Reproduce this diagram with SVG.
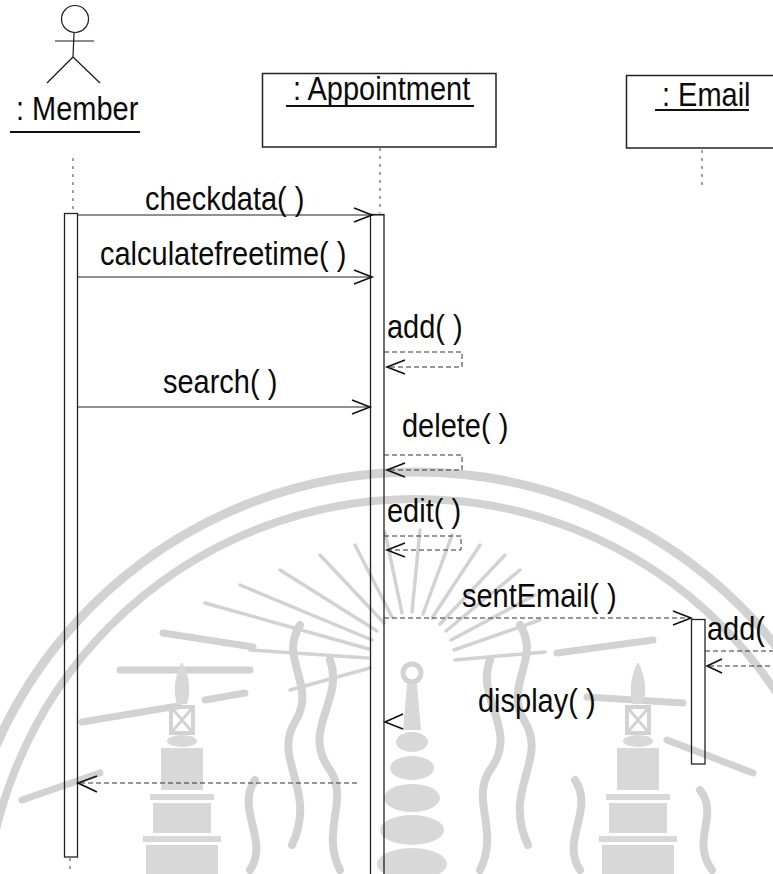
<svg xmlns="http://www.w3.org/2000/svg" width="773" height="874" viewBox="0 0 773 874">
<defs>
<style>
.t{font-family:"Liberation Sans",Arial,sans-serif;font-size:29px;fill:#0a0a0a}
.ln{stroke:#1a1a1a;stroke-width:1.2;fill:none}
.msg{stroke:#222;stroke-width:1;fill:none}
.ret{stroke:#333;stroke-width:1;fill:none;stroke-dasharray:5 3}
.life{stroke:#444;stroke-width:1;fill:none;stroke-dasharray:3 5}
.head{stroke:#111;stroke-width:1.6;fill:none}
.box{stroke:#222;stroke-width:1.5;fill:none}
.bar{stroke:#222;stroke-width:1.3;fill:none}
.ul{stroke:#111;stroke-width:2}
.wm{stroke:#d2d2d2;fill:none;stroke-linecap:round}
.wf{fill:#d8d8d8}
</style>
</defs>
<rect width="773" height="874" fill="#fff"/>

<g id="watermark">
  <circle class="wm" cx="416" cy="931" r="459" stroke-width="9"/>
  <circle class="wm" cx="416" cy="931" r="432" stroke-width="8"/>
  <g class="wm" stroke-width="3.5">
    <line x1="455" y1="660" x2="545" y2="652"/>
    <line x1="454" y1="650" x2="540" y2="620"/>
    <line x1="451" y1="640" x2="535" y2="595"/>
    <line x1="446" y1="631" x2="520" y2="570"/>
    <line x1="440" y1="624" x2="505" y2="555"/>
    <line x1="432" y1="618" x2="480" y2="545"/>
    <line x1="423" y1="614" x2="452" y2="535"/>
    <line x1="412" y1="612" x2="420" y2="530"/>
    <line x1="402" y1="613" x2="385" y2="532"/>
    <line x1="392" y1="617" x2="355" y2="545"/>
    <line x1="384" y1="623" x2="320" y2="555"/>
    <line x1="377" y1="631" x2="280" y2="570"/>
    <line x1="372" y1="640" x2="240" y2="585"/>
    <line x1="369" y1="649" x2="205" y2="603"/>
    <line x1="368" y1="658" x2="250" y2="650"/>
    <line x1="370" y1="668" x2="290" y2="690"/>
  </g>
  <g class="wm" stroke-width="7">
    <line x1="120" y1="670" x2="250" y2="670"/>
    <line x1="82" y1="722" x2="178" y2="706"/>
    <line x1="22" y1="800" x2="100" y2="773"/>
    <line x1="163" y1="633" x2="253" y2="647"/>
    <line x1="557" y1="653" x2="653" y2="640"/>
    <line x1="587" y1="697" x2="683" y2="703"/>
    <line x1="667" y1="740" x2="753" y2="773"/>
    <line x1="205" y1="700" x2="245" y2="693"/>
  </g>
  <g class="wm" stroke-width="8">
    <path d="M300,625 C278,660 318,685 295,722 C272,760 318,790 292,845"/>
    <path d="M330,660 C345,700 300,730 330,770 C350,800 320,830 340,870"/>
    <path d="M255,780 C235,810 270,840 250,870"/>
    <path d="M520,625 C542,660 502,685 525,722 C548,760 502,790 528,845"/>
    <path d="M490,660 C475,700 520,730 490,770 C470,800 500,830 480,870"/>
    <path d="M575,780 C595,810 560,840 580,870"/>
    <path d="M700,790 C720,815 690,840 712,870"/>
  </g>
  <g id="wm-tower-left">
    <path class="wf" d="M182,662 C174,677 173,692 177,704 L187,704 C191,692 190,677 182,662 Z"/>
    <rect class="wm" x="171" y="707" width="22" height="26" stroke-width="4"/>
    <path class="wm" d="M171,707 L193,733 M193,707 L171,733" stroke-width="3"/>
    <ellipse class="wf" cx="182" cy="741" rx="15" ry="6"/>
    <rect class="wf" x="161" y="748" width="42" height="42"/>
    <rect class="wf" x="150" y="794" width="64" height="6"/>
    <rect class="wf" x="153" y="803" width="58" height="30"/>
    <rect class="wf" x="143" y="836" width="78" height="6"/>
    <rect class="wf" x="146" y="845" width="72" height="29"/>
  </g>
  <g id="wm-tower-right">
    <path class="wf" d="M638,662 C630,677 629,692 633,704 L643,704 C647,692 646,677 638,662 Z"/>
    <rect class="wm" x="627" y="707" width="22" height="26" stroke-width="4"/>
    <path class="wm" d="M627,707 L649,733 M649,707 L627,733" stroke-width="3"/>
    <ellipse class="wf" cx="638" cy="741" rx="15" ry="6"/>
    <rect class="wf" x="617" y="748" width="42" height="42"/>
    <rect class="wf" x="606" y="794" width="64" height="6"/>
    <rect class="wf" x="609" y="803" width="58" height="30"/>
    <rect class="wf" x="599" y="836" width="78" height="6"/>
    <rect class="wf" x="602" y="845" width="72" height="29"/>
  </g>
  <g id="wm-tower-center">
    <circle class="wm" cx="412" cy="673" r="9" stroke-width="5"/>
    <path class="wf" d="M407,684 L417,684 L421,730 L403,730 Z"/>
    <ellipse class="wf" cx="412" cy="742" rx="16" ry="10"/>
    <ellipse class="wf" cx="412" cy="768" rx="22" ry="12"/>
    <ellipse class="wf" cx="412" cy="798" rx="28" ry="14"/>
    <ellipse class="wf" cx="412" cy="830" rx="32" ry="15"/>
    <ellipse class="wf" cx="412" cy="864" rx="35" ry="16"/>
  </g>
</g>

<g id="member">
  <circle class="ln" cx="75" cy="19" r="13.5"/>
  <line class="ln" x1="74" y1="33" x2="73" y2="57"/>
  <line class="ln" x1="55" y1="41" x2="94" y2="41"/>
  <line class="ln" x1="73" y1="57" x2="47" y2="83"/>
  <line class="ln" x1="73" y1="57" x2="100" y2="83"/>
  <text class="t" transform="translate(16 120) scale(1 1.12)">: Member</text>
  <line class="ul" x1="10" y1="132" x2="140" y2="132"/>
  <line class="life" x1="73" y1="158" x2="73" y2="213"/>
  <rect class="bar" x="64.5" y="213.5" width="13" height="643.5"/>
  <line class="life" x1="70" y1="858" x2="70" y2="874"/>
</g>

<g id="appointment">
  <rect class="box" x="262.5" y="73.5" width="233.5" height="73.5"/>
  <text class="t" transform="translate(293 100) scale(1 1.12)">: Appointment</text>
  <line class="ul" x1="286" y1="106" x2="474" y2="106"/>
  <line class="life" x1="380" y1="148" x2="380" y2="213"/>
  <rect class="bar" x="370.5" y="214.5" width="13.5" height="670"/>
</g>

<g id="email">
  <rect class="box" x="626.5" y="75.5" width="200" height="72.5"/>
  <text class="t" transform="translate(662 106) scale(1 1.12)">: Email</text>
  <line class="ul" x1="655" y1="110" x2="749" y2="110"/>
  <line class="life" x1="702" y1="150" x2="702" y2="188"/>
  <rect class="bar" x="691.5" y="619.5" width="13.5" height="144.5"/>
</g>

<g id="connectors">
  <line class="msg" x1="78" y1="215" x2="384" y2="215"/>
  <polyline class="head" points="354,208 372,215 354,222"/>
  <text class="t" transform="translate(145 210) scale(1 1.12)">checkdata( )</text>

  <line class="msg" x1="78" y1="277" x2="371" y2="277"/>
  <polyline class="head" points="354,270 372,277 354,284"/>
  <text class="t" transform="translate(100 265) scale(1 1.12)">calculatefreetime( )</text>

  <polyline class="ret" points="384,352 462,352 462,367 388,367"/>
  <polyline class="head" points="405,360 387,367 405,374"/>
  <text class="t" transform="translate(387 338) scale(1 1.12)">add( )</text>

  <line class="msg" x1="78" y1="407" x2="370" y2="407"/>
  <polyline class="head" points="352,400 370,407 352,414"/>
  <text class="t" transform="translate(163 393) scale(1 1.12)">search( )</text>

  <polyline class="ret" points="384,455 462,455 462,470 388,470"/>
  <polyline class="head" points="405,463 387,470 405,477"/>
  <text class="t" transform="translate(402 437) scale(1 1.12)">delete( )</text>

  <polyline class="ret" points="384,536 461,536 461,550 388,550"/>
  <polyline class="head" points="405,543 387,550 405,557"/>
  <text class="t" transform="translate(387 522) scale(1 1.12)">edit( )</text>

  <line class="ret" x1="384" y1="618" x2="690" y2="618"/>
  <polyline class="head" points="673,611 691,618 673,625"/>
  <text class="t" transform="translate(462 607) scale(1 1.12)">sentEmail( )</text>

  <polyline class="ret" points="705,651 790,651 790,666 708,666"/>
  <polyline class="head" points="722,659 707,666 722,673"/>
  <text class="t" transform="translate(707 640) scale(1 1.12)">add(</text>

  <polyline class="head" points="403,714 385,722 403,729"/>
  <text class="t" transform="translate(478 712) scale(1 1.12)">display( )</text>

  <line class="ret" x1="80" y1="783" x2="358" y2="783" stroke-dasharray="3 7"/>
  <polyline class="head" points="97,776 78,783 97,792"/>
</g>
</svg>
